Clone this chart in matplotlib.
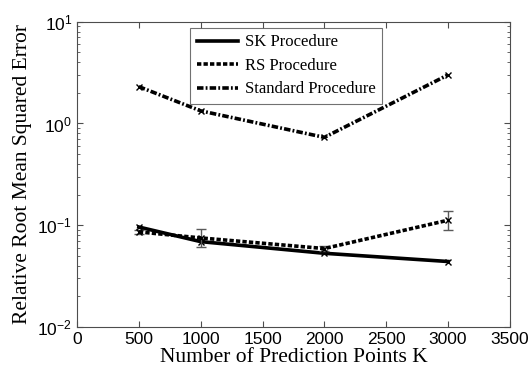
import numpy as np
import matplotlib.pyplot as plt

# data
points_k = [500, 1000, 2000, 3000]
sk_rmse = [0.096, 0.069, 0.053, 0.044]
rs_rmse = [0.086, 0.075, 0.059, 0.112]
rs_err_lo = [0.004, 0.014, 0.003, 0.023]
rs_err_hi = [0.004, 0.016, 0.003, 0.026]
std_rmse = [2.3, 1.33, 0.73, 3.0]

x_ticks = [0, 500, 1000, 1500, 2000, 2500, 3000, 3500]

plt.rcParams['font.family'] = ['Liberation Sans', 'DejaVu Sans']
plt.rcParams['mathtext.default'] = 'regular'

fig = plt.figure(figsize=(5.3, 3.74), dpi=100)
ax = fig.add_axes([0.1453, 0.1257, 0.8167, 0.8163])

ax.plot(points_k, sk_rmse, '-', color='black', lw=2.6, marker='x', ms=4, mew=1,
        label='SK Procedure')
ax.errorbar(points_k, rs_rmse, yerr=[rs_err_lo, rs_err_hi], fmt='none',
            ecolor='0.35', elinewidth=1, capsize=3.5)
ax.plot(points_k, rs_rmse, color='black', lw=2.6, ls=(0, (1.2, 0.6)), marker='x',
        ms=4, mew=1, label='RS Procedure')
ax.plot(points_k, std_rmse, color='black', lw=2.6, ls=(0, (1.8, 0.6, 0.5, 0.6)),
        marker='x', ms=4, mew=1, label='Standard Procedure')

ax.set_yscale('log')
ax.set_ylim(1e-2, 1e1)
ax.set_xlim(0, 3500)
ax.set_xticks(x_ticks)
ax.set_yticks([1e-2, 1e-1, 1e0, 1e1])
ax.set_yticklabels(['$10^{-2}$', '$10^{-1}$', '$10^{0}$', '$10^{1}$'])

ax.tick_params(which='both', direction='in', top=True, right=True,
               labelsize=12.5, color='0.3')
ax.tick_params(which='major', length=4)
ax.tick_params(which='minor', length=2.5)
for s in ax.spines.values():
    s.set_color('0.3')
    s.set_linewidth(0.8)

ax.set_xlabel('Number of Prediction Points K', family='Liberation Serif', fontsize=15.5,
              labelpad=1)
ax.set_ylabel('Relative Root Mean Squared Error', family='Liberation Serif',
              fontsize=15.5, labelpad=4)

leg = ax.legend(loc='upper left', bbox_to_anchor=(0.261, 0.98), fancybox=False,
                prop={'family': 'Liberation Serif', 'size': 12}, handlelength=2.5,
                borderpad=0.4, labelspacing=0.45, handletextpad=0.4, borderaxespad=0)
leg.get_frame().set_edgecolor('0.3')
leg.get_frame().set_linewidth(0.8)
for h in leg.legend_handles:
    h.set_marker('')

fig.savefig('out.png', dpi=100)
